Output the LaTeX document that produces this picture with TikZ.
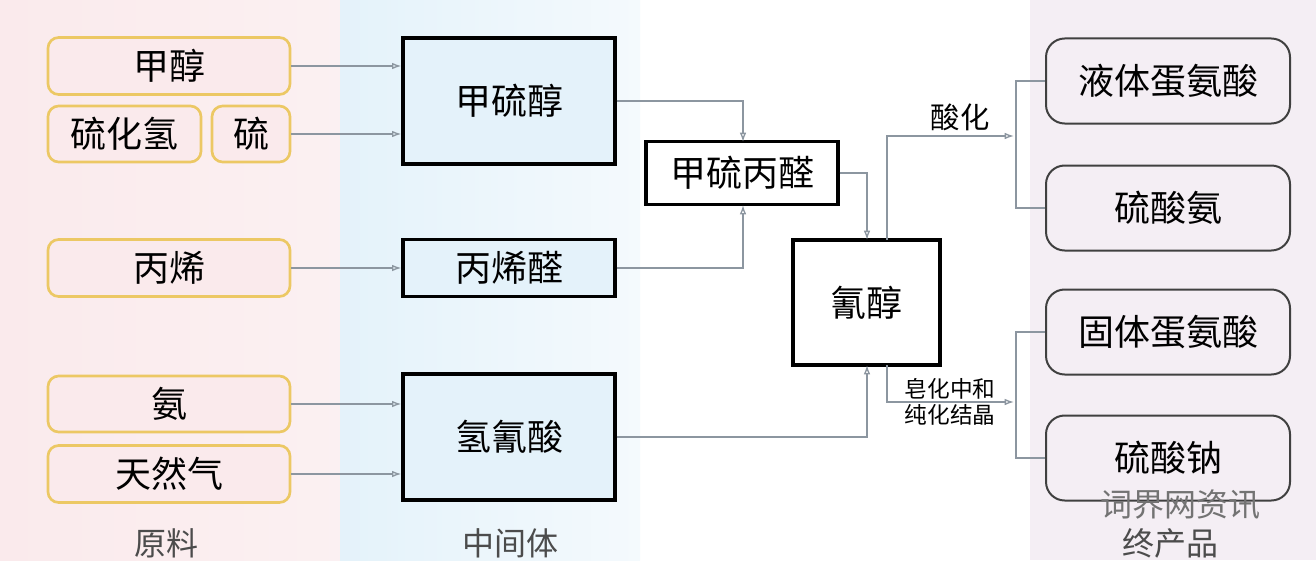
\documentclass[tikz,border=0pt]{standalone}
\usepackage{fontspec}
\setmainfont{Noto Sans CJK SC}
\usetikzlibrary{arrows.meta}
\definecolor{rawfill}{RGB}{250,234,236}
\definecolor{rawedge}{RGB}{236,200,100}
\definecolor{midbg}{RGB}{228,242,250}
\definecolor{rightbg}{RGB}{244,238,244}
\definecolor{lineg}{RGB}{140,150,160}
\tikzset{
 raw/.style={draw=rawedge,line width=2pt,rounded corners=8pt,fill=rawfill},
 mid/.style={draw=black,line width=2.5pt,fill=midbg},
 prod/.style={draw=black!75,line width=1.5pt,rounded corners=14pt,fill=rightbg},
 lbl/.style={font=\fontsize{27}{30}\selectfont},
 conn/.style={draw=lineg,line width=1pt,-{Latex[length=7pt,width=5pt,open]}},
 plain/.style={draw=lineg,line width=1pt}
}
\begin{document}
\begin{tikzpicture}[x=0.75pt,y=-0.75pt]
\useasboundingbox (0,0) rectangle (1316,560);
\fill[white] (0,0) rectangle (1316,560);
\shade[left color=rawfill,right color=rawfill!70!white] (0,0) rectangle (340,560);
\shade[left color=midbg,right color=midbg!40!white] (340,0) rectangle (640,560);
\fill[rightbg] (1030,0) rectangle (1316,560);
% raw materials
\node[raw,lbl,minimum width=242*0.75pt,minimum height=57*0.75pt] (a1) at (169,66) {甲醇};
\node[raw,lbl,minimum width=153*0.75pt,minimum height=56*0.75pt] (a2) at (124.5,134) {硫化氢};
\node[raw,lbl,minimum width=78*0.75pt,minimum height=56*0.75pt] (a3) at (251,134) {硫};
\node[raw,lbl,minimum width=242*0.75pt,minimum height=57*0.75pt] (a4) at (169,268) {丙烯};
\node[raw,lbl,minimum width=242*0.75pt,minimum height=56*0.75pt] (a5) at (169,404) {氨};
\node[raw,lbl,minimum width=242*0.75pt,minimum height=57*0.75pt] (a6) at (169,474) {天然气};
% intermediates
\node[mid,lbl,minimum width=212*0.75pt,minimum height=126*0.75pt] (b1) at (509,101) {甲硫醇};
\node[mid,lbl,minimum width=212*0.75pt,minimum height=57*0.75pt] (b2) at (509,268) {丙烯醛};
\node[mid,lbl,minimum width=212*0.75pt,minimum height=126*0.75pt] (b3) at (509,437) {氢氰酸};
\node[mid,lbl,fill=white,minimum width=192*0.75pt,minimum height=63*0.75pt] (c1) at (742,173) {甲硫丙醛};
\node[mid,lbl,fill=white,minimum width=147*0.75pt,minimum height=125*0.75pt] (c2) at (866.5,302.5) {氰醇};
% products
\node[prod,lbl,minimum width=244*0.75pt,minimum height=85*0.75pt] (d1) at (1168,81) {液体蛋氨酸};
\node[prod,lbl,minimum width=244*0.75pt,minimum height=85*0.75pt] (d2) at (1168,208) {硫酸氨};
\node[prod,lbl,minimum width=244*0.75pt,minimum height=85*0.75pt] (d3) at (1168,332) {固体蛋氨酸};
\node[prod,lbl,minimum width=244*0.75pt,minimum height=85*0.75pt] (d4) at (1168,458) {硫酸钠};
% connectors
\draw[conn] (a1.east) -- (a1.east -| b1.west);
\draw[conn] (a3.east) -- (a3.east -| b1.west);
\draw[conn] (a4.east) -- (b2.west);
\draw[conn] (a5.east) -- (a5.east -| b3.west);
\draw[conn] (a6.east) -- (a6.east -| b3.west);
\draw[conn] (b1.east) -- (743,101) -- (743,142);
\draw[conn] (b2.east) -- (743,268) -- (743,205);
\draw[conn] (c1.east) -- (867,173) -- (867,240);
\draw[conn] (b3.east) -- (867,437) -- (867,365);
\coordinate (k1) at (1014,136);
\coordinate (k2) at (1014,402);
\draw[conn] (887,240) -- (887,136) -- (k1);
\draw[conn] (887,365) -- (887,402) -- (k2);
\draw[plain] (d1.west) -- (1016,81) -- (1016,208) -- (d2.west);
\draw[plain] (d3.west) -- (1016,332) -- (1016,458) -- (d4.west);
\node[font=\fontsize{22}{24}\selectfont] (t1) at (960,117) {酸化};
\node[font=\fontsize{17}{19}\selectfont,align=left] (t2) at (950,402) {皂化中和\\纯化结晶};
% axis labels
\node[font=\fontsize{24}{26}\selectfont,text=black!70] (l1) at (166,543) {原料};
\node[font=\fontsize{24}{26}\selectfont,text=black!70] (l2) at (510,543) {中间体};
\node[font=\fontsize{24}{26}\selectfont,text=black!70] (l3) at (1170,543) {终产品};
\node[font=\fontsize{24}{26}\selectfont,text=black!55] (w) at (1180,505) {词界网资讯};
\end{tikzpicture}
\end{document}
